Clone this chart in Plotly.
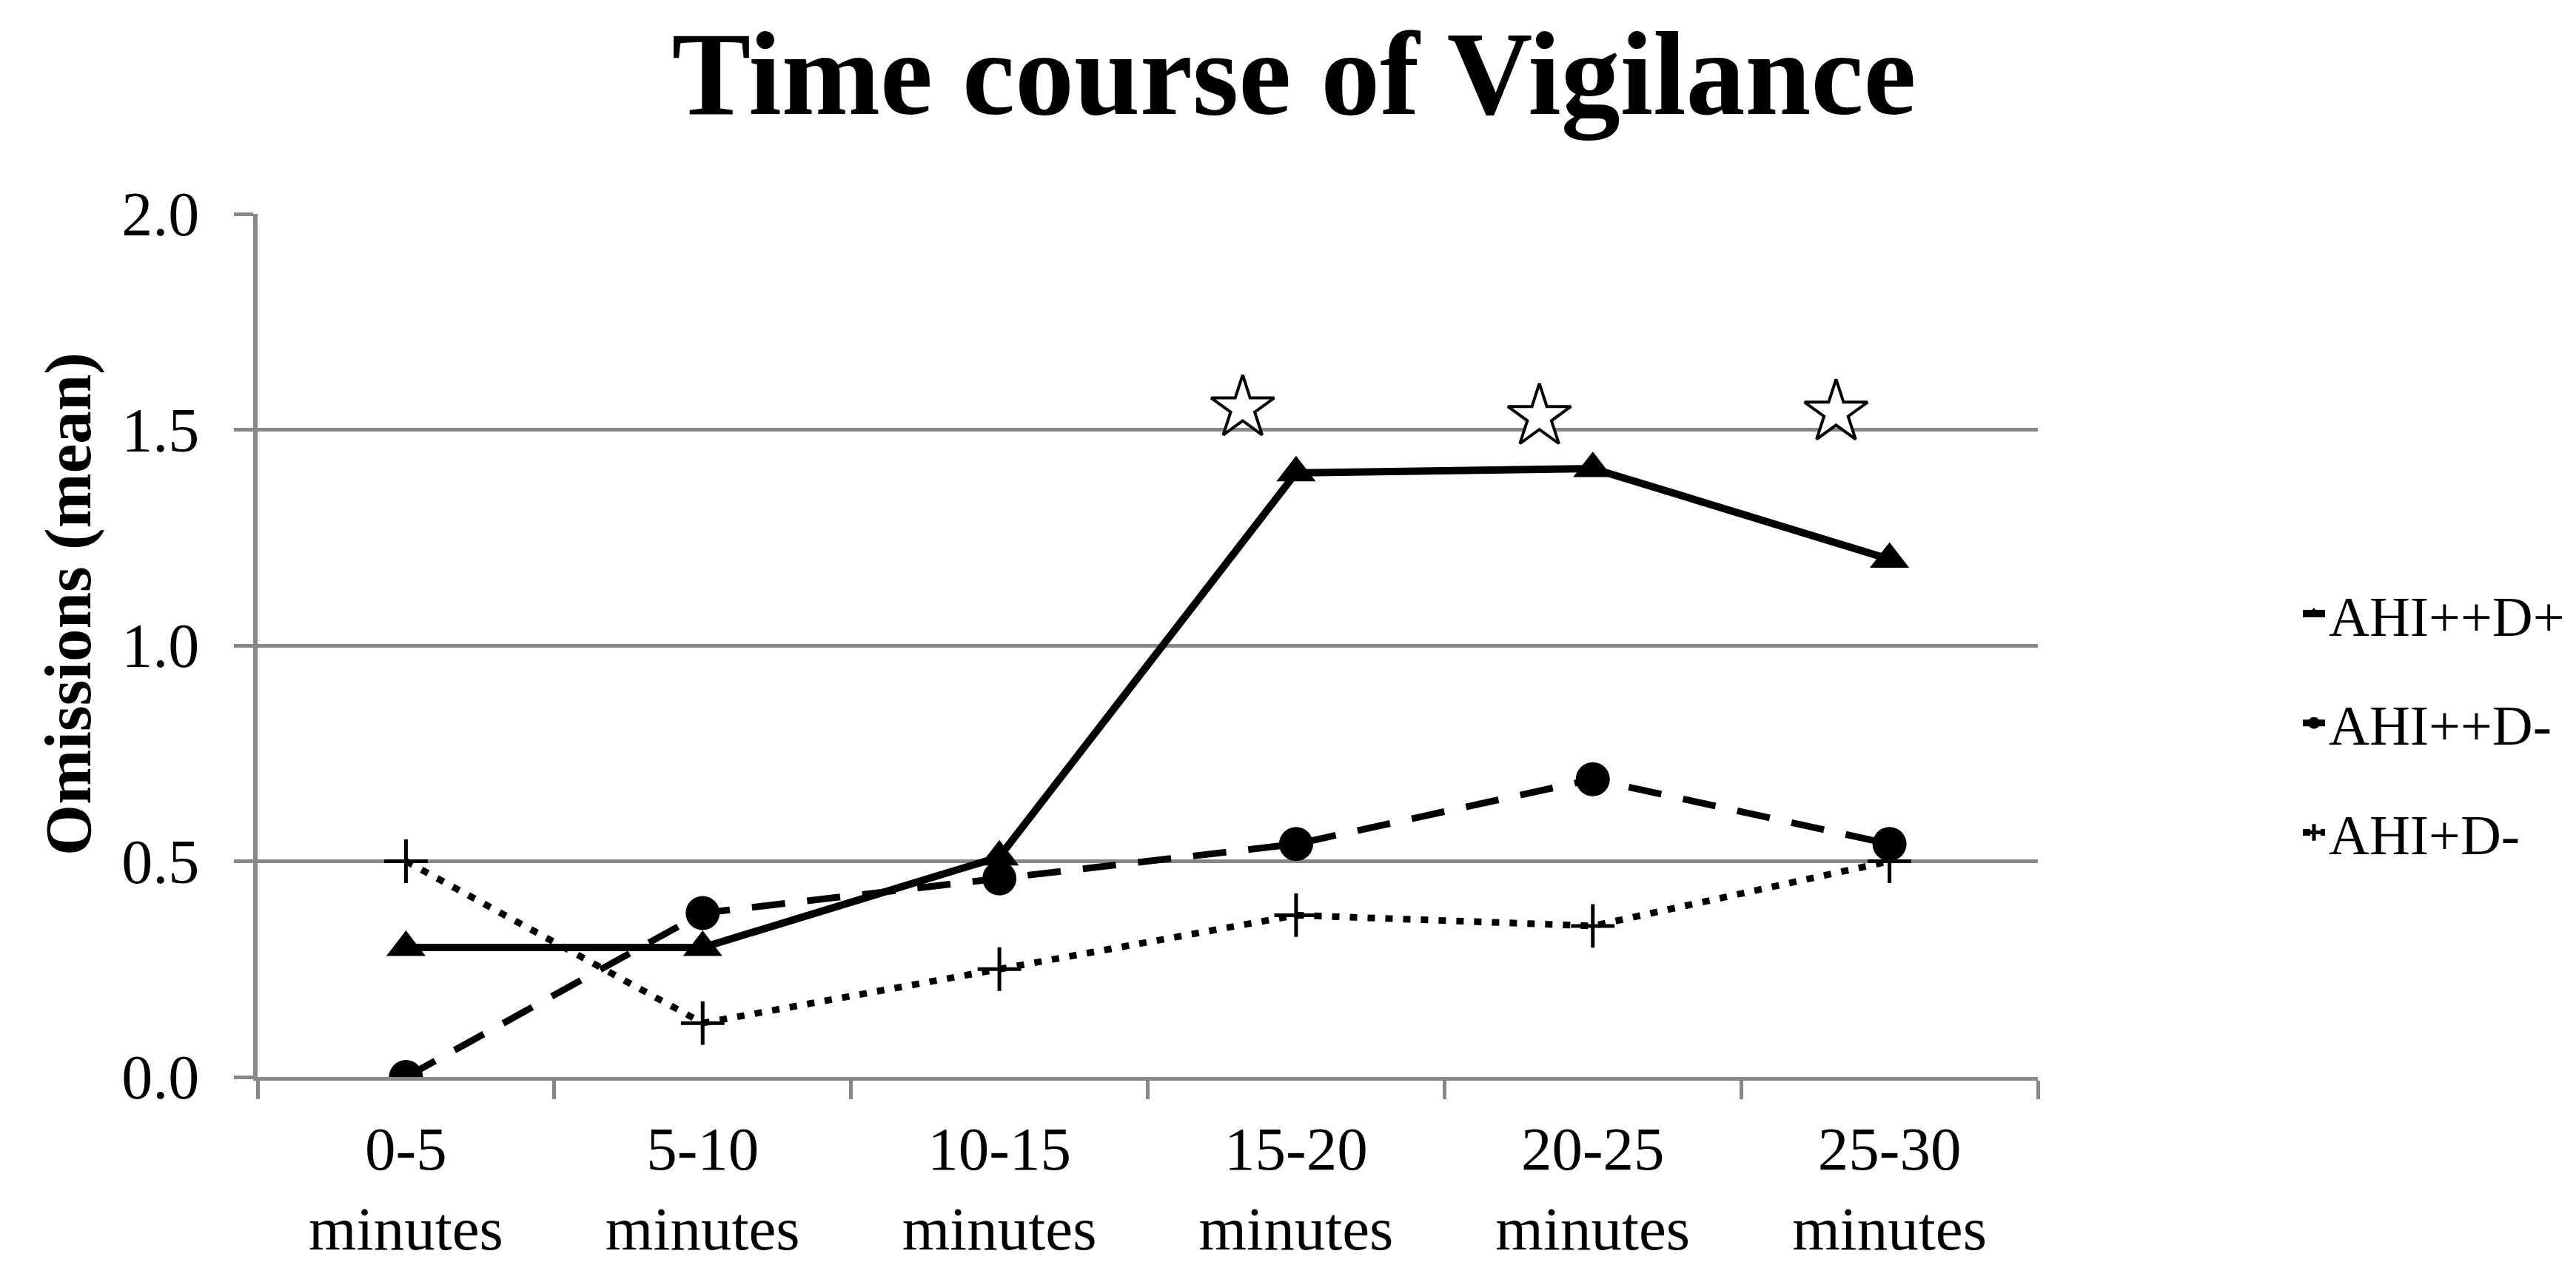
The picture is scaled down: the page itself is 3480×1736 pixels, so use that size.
import plotly.graph_objects as go

categories = ["0-5", "5-10", "10-15", "15-20", "20-25", "25-30"]
tick_text = [c + "<br>minutes" for c in categories]

ahi_pp_dp = [0.30, 0.30, 0.51, 1.40, 1.41, 1.20]
ahi_pp_dm = [0.00, 0.38, 0.46, 0.54, 0.69, 0.54]
ahi_p_dm = [0.50, 0.125, 0.25, 0.375, 0.35, 0.50]

star_cats = ["15-20", "20-25", "25-30"]
star_y = [1.55, 1.53, 1.54]

y_ticks = [0.0, 0.5, 1.0, 1.5, 2.0]

FONT = "Liberation Serif"
GRAY = "#888888"
STAR_SHIFT = -0.18

W, H = 3480, 1736
L, R, T, B = 340, 735, 281, 289
PW, PH = W - L - R, H - T - B

x_idx = list(range(len(categories)))
star_x = [categories.index(c) + STAR_SHIFT for c in star_cats]

fig = go.Figure()

fig.add_trace(go.Scatter(
    x=x_idx, y=ahi_pp_dp, name="AHI++D+", mode="lines+markers",
    line=dict(color="black", width=10, dash="solid"),
    marker=dict(symbol="triangle-up", size=46, color="black"),
    legendgroup="a",
))
fig.add_trace(go.Scatter(
    x=x_idx, y=ahi_pp_dm, name="AHI++D-", mode="lines+markers",
    line=dict(color="black", width=9, dash="45px,30px"),
    marker=dict(symbol="circle", size=46, color="black"),
    legendgroup="b",
))
fig.add_trace(go.Scatter(
    x=x_idx, y=ahi_p_dm, name="AHI+D-", mode="lines+markers",
    line=dict(color="black", width=9, dash="10px,14px"),
    marker=dict(symbol="cross-thin", size=42, color="black",
                line=dict(color="black", width=5)),
    legendgroup="c",
))
fig.add_trace(go.Scatter(
    x=star_x, y=star_y, mode="markers", showlegend=False,
    marker=dict(symbol="star", size=64, color="white",
                line=dict(color="black", width=4)),
))

fig.update_layout(
    width=W, height=H,
    margin=dict(l=L, r=R, t=T, b=B),
    paper_bgcolor="white", plot_bgcolor="white",
    font=dict(family=FONT, color="black"),
    title=dict(text="<b>Time course of Vigilance</b>",
               font=dict(family=FONT, size=160, color="black"),
               x=0.5, xanchor="center", xref="container",
               y=1 - 90 / H, yanchor="middle", yref="container"),
    showlegend=True,
    legend=dict(x=(3098 - L) / PW, xanchor="left",
                y=(H - B - 969) / PH, yanchor="middle",
                font=dict(family=FONT, size=76, color="black"),
                traceorder="grouped", tracegroupgap=46,
                bgcolor="rgba(0,0,0,0)", itemsizing="trace"),
    annotations=[dict(text="<b>Omissions (mean)</b>", textangle=-90,
                      xref="paper", yref="paper",
                      x=(84 - L) / PW, y=(H - B - 808) / PH,
                      xanchor="center", yanchor="middle", showarrow=False,
                      font=dict(family=FONT, size=89, color="black"))],
)

fig.update_xaxes(
    range=[-0.5, 5.5], tickmode="array", tickvals=x_idx, ticktext=tick_text,
    ticks="", showgrid=False, zeroline=False,
    showline=True, linecolor=GRAY, linewidth=5,
    tickfont=dict(family=FONT, size=83, color="black"),
    ticklabelstandoff=20,
    minor=dict(tickmode="array", tickvals=[i - 0.5 for i in range(len(categories) + 1)],
               ticks="outside", ticklen=25, tickwidth=5, tickcolor=GRAY, showgrid=False),
)
fig.update_yaxes(
    range=[0, 2], tickmode="array", tickvals=y_ticks,
    ticktext=[f"{v:.1f}" for v in y_ticks],
    ticks="outside", ticklen=26, tickwidth=5, tickcolor=GRAY,
    showgrid=True, gridcolor=GRAY, gridwidth=5, zeroline=False,
    showline=True, linecolor=GRAY, linewidth=6,
    tickfont=dict(family=FONT, size=84, color="black"),
    ticklabelstandoff=30,
)

fig.write_html("out.html")
